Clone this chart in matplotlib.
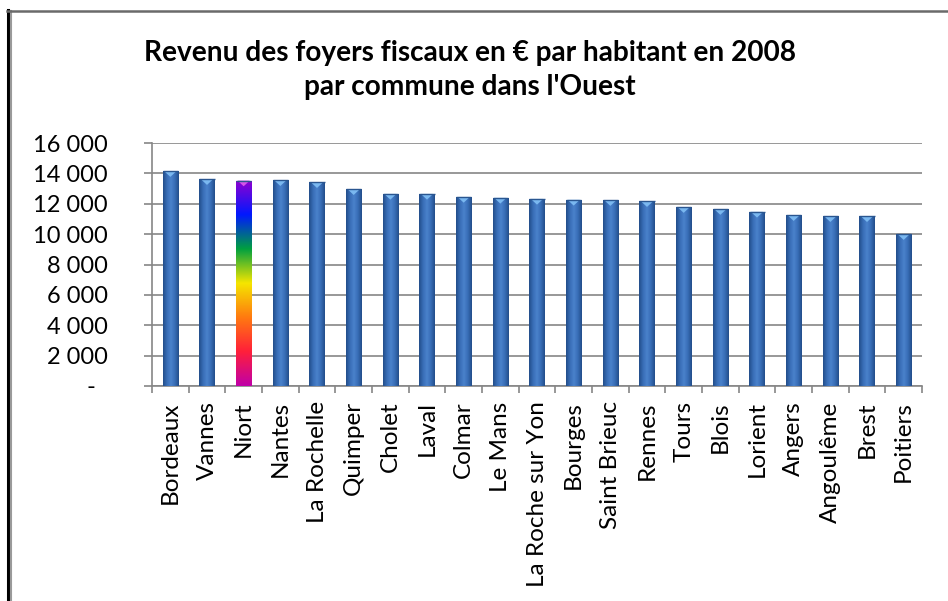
import matplotlib
matplotlib.use("Agg")
import matplotlib.pyplot as plt
import numpy as np
from matplotlib.colors import LinearSegmentedColormap
from matplotlib.lines import Line2D
from matplotlib.patches import Polygon
from matplotlib.ticker import FuncFormatter, MultipleLocator

communes = [
    "Bordeaux", "Vannes", "Niort", "Nantes", "La Rochelle", "Quimper",
    "Cholet", "Laval", "Colmar", "Le Mans", "La Roche sur Yon", "Bourges",
    "Saint Brieuc", "Rennes", "Tours", "Blois", "Lorient", "Angers",
    "Angoulême", "Brest", "Poitiers",
]
revenu = [
    14150, 13620, 13530, 13550, 13420, 12960, 12650, 12650, 12450, 12390,
    12320, 12260, 12240, 12170, 11780, 11650, 11470, 11250, 11180, 11180,
    10000,
]
highlight = "Niort"

plt.rcParams["font.family"] = ["Lato", "DejaVu Sans"]

fig = plt.figure(figsize=(9.48, 6.01), dpi=100)
W, H = 948, 601
ax = fig.add_axes([152 / W, 1 - 386 / H, 770 / W, 243 / H])

x = np.arange(len(communes))
bars = ax.bar(x, revenu, width=0.42, color="#3a6db5", zorder=3)

blue_cmap = LinearSegmentedColormap.from_list(
    "cyl", ["#224d8a", "#386db6", "#4a82cc", "#386db6", "#224d8a"])
rainbow_cmap = LinearSegmentedColormap.from_list(
    "rb", ["#c000a8", "#ff1f3a", "#ff7a10", "#f5e600", "#00a040",
           "#0018ff", "#9000d0"])

grad_h = np.linspace(0, 1, 64)[None, :]
grad_v = np.linspace(0, 1, 256)[:, None]
ymax = 16000
chev = 380  # depth of the top chevron, in data units

for name, b in zip(communes, bars):
    x0, w, h = b.get_x(), b.get_width(), b.get_height()
    if name == highlight:
        img = ax.imshow(grad_v, cmap=rainbow_cmap, extent=[x0, x0 + w, 0, h],
                        origin="lower", aspect="auto", zorder=4)
        top_col = "#d455e8"
    else:
        img = ax.imshow(grad_h, cmap=blue_cmap, extent=[x0, x0 + w, 0, h],
                        aspect="auto", zorder=4)
        top_col = "#7ab8f0"
    img.set_clip_path(b)
    ax.add_patch(Polygon([(x0 + 0.1 * w, h), (x0 + 0.9 * w, h),
                          (x0 + w / 2, h - chev)], closed=True,
                         facecolor=top_col, edgecolor="none", zorder=5))
    ax.add_patch(Polygon([(x0, h), (x0 + w, h)], closed=False, fill=False,
                         edgecolor="#2a5690", lw=1.0, zorder=5))

ax.set_xlim(-0.5, len(communes) - 0.5)
ax.set_ylim(0, ymax)
ax.yaxis.set_major_locator(MultipleLocator(2000))
ax.yaxis.set_major_formatter(FuncFormatter(
    lambda v, p: "-  " if v == 0 else f"{int(v):,}".replace(",", " ")))
ax.grid(axis="y", color="#868686", lw=1.2, zorder=1)

ax.set_xticks(x)
ax.set_xticklabels(communes, rotation=90, fontsize=17.5)
ax.set_xticks(np.arange(len(communes) + 1) - 0.5, minor=True)
ax.tick_params(axis="x", which="major", length=0, pad=11)
ax.tick_params(axis="x", which="minor", length=5, width=1.2,
               color="#868686", direction="out")
ax.tick_params(axis="y", length=6, width=1.2, color="#868686",
               labelsize=17, pad=26)

for side in ("top", "right"):
    ax.spines[side].set_visible(False)
for side in ("left", "bottom"):
    ax.spines[side].set_color("#868686")
    ax.spines[side].set_linewidth(1.2)

fig.text(470 / W, 1 - 40 / H,
         "Revenu des foyers fiscaux en € par habitant en 2008\npar commune dans l'Ouest",
         ha="center", va="top", fontsize=20.2, fontweight="bold",
         linespacing=1.4)

# outer chart frame
fig.add_artist(Line2D([7.5 / W, 7.5 / W], [0, 1 - 10 / H], color="black",
                      lw=2.2, transform=fig.transFigure))
fig.add_artist(Line2D([11 / W, 11 / W], [0, 1 - 11 / H], color="#9a9a9a",
                      lw=1.5, transform=fig.transFigure))
fig.add_artist(Line2D([6.5 / W, 1], [1 - 11 / H, 1 - 11 / H],
                      color="#6a6a6a", lw=1.8, transform=fig.transFigure))

fig.savefig("out.png", dpi=100)
